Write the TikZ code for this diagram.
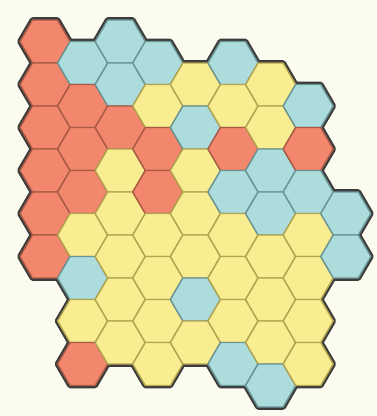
\documentclass[tikz,border=0pt]{standalone}
\definecolor{bg}{HTML}{FCFBEF}
\definecolor{hR}{HTML}{F2876E}
\definecolor{hY}{HTML}{F9ED92}
\definecolor{hB}{HTML}{ACDCDC}
\definecolor{eR}{HTML}{A85A45}
\definecolor{eY}{HTML}{B3A44E}
\definecolor{eB}{HTML}{6A9595}
\definecolor{rim}{HTML}{3C3C3C}
\tikzset{
  hexpath/.style={line join=round},
}
\def\hexlist{0/0/R,0/2/R,0/4/R,0/6/R,0/8/R,0/10/R,
1/1/B,1/3/R,1/5/R,1/7/R,1/9/Y,1/11/B,1/13/Y,1/15/R,
2/0/B,2/2/B,2/4/R,2/6/Y,2/8/Y,2/10/Y,2/12/Y,2/14/Y,
3/1/B,3/3/Y,3/5/R,3/7/R,3/9/Y,3/11/Y,3/13/Y,3/15/Y,
4/2/Y,4/4/B,4/6/Y,4/8/Y,4/10/Y,4/12/B,4/14/Y,
5/1/B,5/3/Y,5/5/R,5/7/B,5/9/Y,5/11/Y,5/13/Y,5/15/B,
6/2/Y,6/4/Y,6/6/B,6/8/B,6/10/Y,6/12/Y,6/14/Y,6/16/B,
7/3/B,7/5/R,7/7/B,7/9/Y,7/11/Y,7/13/Y,7/15/Y,
8/8/B,8/10/B}
\begin{document}
\begin{tikzpicture}[x=1pt,y=-1pt]
\fill[bg] (0,0) rectangle (377,416);
\useasboundingbox (0,0) rectangle (377,416);
% pass 1: dark rim
\foreach \c/\r/\k in \hexlist {
  \pgfmathsetmacro\cx{45+37.6*\c}
  \pgfmathsetmacro\cy{41.5+21.5*\r}
  \draw[rim, line width=5.6, hexpath, shift={(\cx,\cy)}]
    (25.07,0) -- (12.535,21.5) -- (-12.535,21.5) -- (-25.07,0)
    -- (-12.535,-21.5) -- (12.535,-21.5) -- cycle;
}
% pass 2: fills with coloured edges
\foreach \c/\r/\k in \hexlist {
  \pgfmathsetmacro\cx{45+37.6*\c}
  \pgfmathsetmacro\cy{41.5+21.5*\r}
  \filldraw[fill=h\k, draw=e\k, line width=1.4, hexpath, shift={(\cx,\cy)}]
    (25.07,0) -- (12.535,21.5) -- (-12.535,21.5) -- (-25.07,0)
    -- (-12.535,-21.5) -- (12.535,-21.5) -- cycle;
}
\end{tikzpicture}
\end{document}
